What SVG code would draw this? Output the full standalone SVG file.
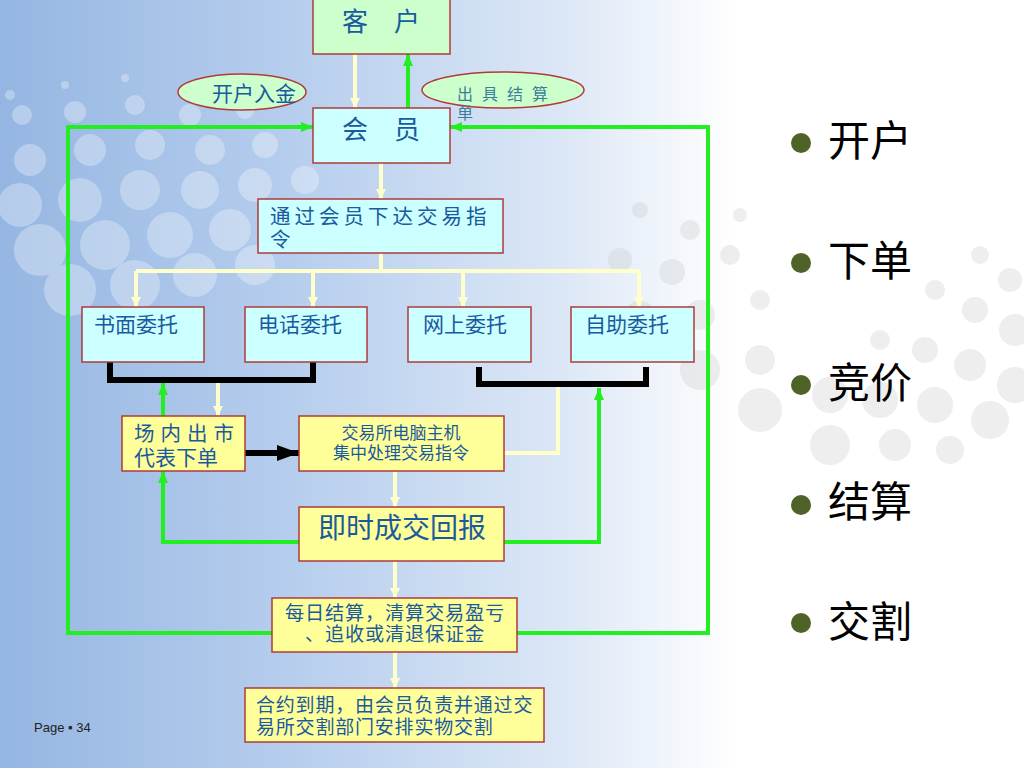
<svg xmlns="http://www.w3.org/2000/svg" width="1024" height="768" viewBox="0 0 1024 768">
<defs>
<linearGradient id="bg" x1="0" y1="0" x2="1" y2="0">
<stop offset="0" stop-color="#95B6E2"/>
<stop offset="0.3" stop-color="#B8CFEE"/>
<stop offset="0.55" stop-color="#DCE7F6"/>
<stop offset="0.72" stop-color="#FFFFFF"/>
<stop offset="1" stop-color="#FFFFFF"/>
</linearGradient>
<marker id="ag" markerWidth="12" markerHeight="10" refX="12" refY="5" orient="auto" markerUnits="userSpaceOnUse"><path d="M0,0 L12,5 L0,10 z" fill="#22EE22"/></marker>
<marker id="ay" markerWidth="10" markerHeight="10" refX="10" refY="5" orient="auto" markerUnits="userSpaceOnUse"><path d="M0,0 L10,5 L0,10 z" fill="#FFFFCC"/></marker>
<marker id="ak" markerWidth="22" markerHeight="16" refX="22" refY="8" orient="auto" markerUnits="userSpaceOnUse"><path d="M0,0 L22,8 L0,16 z" fill="#000000"/></marker>
</defs>
<style>
.box{stroke:#B03A3A;stroke-width:1.5}
.cy{fill:#CCFFFF}
.ye{fill:#FFFF99}
.gr{fill:#CCFFCC}
.t{font-family:"Liberation Sans","Noto Sans CJK SC",sans-serif;fill:#1A5A9E}
.g{fill:none;stroke:#22EE22;stroke-width:4}
.y{fill:none;stroke:#FFFFCC;stroke-width:4}
.k{fill:none;stroke:#000000;stroke-width:6}
.bt{font-family:"Noto Sans CJK SC",sans-serif;font-size:42px;fill:#000000}
.bd{fill:#4F6228}
</style>
<rect x="0" y="0" width="1024" height="768" fill="url(#bg)"/>
<g id="decor-left" fill="#FFFFFF" opacity="0.3">
<circle cx="10" cy="95" r="5"/><circle cx="65" cy="85" r="4"/><circle cx="125" cy="78" r="4"/>
<circle cx="22" cy="115" r="10"/><circle cx="75" cy="112" r="11"/><circle cx="135" cy="105" r="10"/><circle cx="190" cy="115" r="11"/><circle cx="245" cy="110" r="9"/>
<circle cx="30" cy="160" r="16"/><circle cx="90" cy="150" r="16"/><circle cx="150" cy="145" r="15"/><circle cx="210" cy="150" r="15"/><circle cx="265" cy="145" r="13"/>
<circle cx="20" cy="205" r="22"/><circle cx="80" cy="200" r="22"/><circle cx="140" cy="190" r="20"/><circle cx="200" cy="190" r="19"/><circle cx="255" cy="185" r="17"/><circle cx="305" cy="180" r="14"/>
<circle cx="40" cy="250" r="26"/><circle cx="105" cy="245" r="25"/><circle cx="170" cy="235" r="23"/><circle cx="230" cy="230" r="21"/><circle cx="285" cy="225" r="18"/>
<circle cx="70" cy="290" r="26"/><circle cx="135" cy="285" r="25"/><circle cx="195" cy="275" r="22"/><circle cx="255" cy="265" r="20"/>
</g>
<g id="decor-right" fill="#C8C8C8" opacity="0.3">
<circle cx="640" cy="210" r="8"/><circle cx="690" cy="230" r="10"/><circle cx="740" cy="215" r="7"/>
<circle cx="620" cy="260" r="12"/><circle cx="672" cy="272" r="13"/><circle cx="730" cy="255" r="10"/><circle cx="980" cy="255" r="9"/><circle cx="1010" cy="280" r="12"/>
<circle cx="640" cy="318" r="17"/><circle cx="700" cy="315" r="15"/><circle cx="760" cy="300" r="10"/><circle cx="935" cy="290" r="10"/><circle cx="975" cy="310" r="13"/><circle cx="1015" cy="330" r="16"/>
<circle cx="700" cy="370" r="20"/><circle cx="760" cy="360" r="15"/><circle cx="880" cy="340" r="10"/><circle cx="925" cy="350" r="13"/><circle cx="970" cy="365" r="16"/><circle cx="1015" cy="385" r="18"/>
<circle cx="760" cy="410" r="22"/><circle cx="830" cy="395" r="18"/><circle cx="880" cy="400" r="18"/><circle cx="935" cy="405" r="18"/><circle cx="990" cy="420" r="19"/>
<circle cx="830" cy="445" r="20"/><circle cx="895" cy="445" r="16"/><circle cx="950" cy="450" r="14"/>
</g>
<g id="connectors">
<path class="y" d="M355,54 V108" marker-end="url(#ay)"/>
<path class="g" d="M408,108 V54" marker-end="url(#ag)"/>
<path class="g" d="M272,633 H68 V127 H313" marker-end="url(#ag)"/>
<path class="g" d="M517,633 H708 V127 H450" marker-end="url(#ag)"/>
<path class="y" d="M381,163 V199" marker-end="url(#ay)"/>
<path class="y" d="M381,253 V271"/>
<path class="y" d="M136,271 H639"/>
<path class="y" d="M136,271 V307" marker-end="url(#ay)"/>
<path class="y" d="M313,271 V307" marker-end="url(#ay)"/>
<path class="y" d="M463,271 V307" marker-end="url(#ay)"/>
<path class="y" d="M639,271 V307" marker-end="url(#ay)"/>
<path class="k" d="M110,362 V380 H313 V362"/>
<path class="k" d="M479,367 V384 H646 V367"/>
<path class="g" d="M163,416 V383" marker-end="url(#ag)"/>
<path class="y" d="M218,383 V416" marker-end="url(#ay)"/>
<path class="k" d="M245,453 H299" marker-end="url(#ak)"/>
<path class="y" d="M504,453 H558 V387"/>
<path class="y" d="M395,471 V507" marker-end="url(#ay)"/>
<path class="g" d="M299,542 H163 V471" marker-end="url(#ag)"/>
<path class="g" d="M504,542 H599 V388" marker-end="url(#ag)"/>
<path class="y" d="M395,561 V598" marker-end="url(#ay)"/>
<path class="y" d="M395,652 V688" marker-end="url(#ay)"/>
</g>
<g id="n-kehu"><rect class="box gr" x="313" y="-1" width="137" height="55"/><text class="t" x="381" y="31" font-size="26" text-anchor="middle">客　户</text></g>
<g id="n-kaihu"><ellipse class="box gr" cx="242" cy="92" rx="64" ry="18"/><text class="t" x="212" y="101" font-size="21">开户入金</text></g>
<g id="n-chuju"><ellipse class="box gr" cx="503" cy="90" rx="81" ry="18"/><text class="t" font-size="16" style="fill:#3E7D9A"><tspan x="457" y="100" letter-spacing="9">出具结算</tspan><tspan x="457" y="119">单</tspan></text></g>
<g id="n-huiyuan"><rect class="box cy" x="313" y="108" width="137" height="55"/><text class="t" x="381" y="139" font-size="26" text-anchor="middle">会　员</text></g>
<g id="n-tongguo"><rect class="box cy" x="258" y="199" width="245" height="54"/><text class="t" font-size="20.5"><tspan x="270" y="224" letter-spacing="4">通过会员下达交易指</tspan><tspan x="270" y="247">令</tspan></text></g>
<g id="n-shumian"><rect class="box cy" x="82" y="307" width="122" height="55"/><text class="t" x="94" y="332" font-size="21">书面委托</text></g>
<g id="n-dianhua"><rect class="box cy" x="245" y="307" width="122" height="55"/><text class="t" x="258" y="332" font-size="21">电话委托</text></g>
<g id="n-wangshang"><rect class="box cy" x="408" y="307" width="123" height="55"/><text class="t" x="423" y="332" font-size="21">网上委托</text></g>
<g id="n-zizhu"><rect class="box cy" x="571" y="307" width="123" height="55"/><text class="t" x="585" y="332" font-size="21">自助委托</text></g>
<g id="n-changnei"><rect class="box ye" x="122" y="416" width="123" height="55"/><text class="t"><tspan x="134" y="441" font-size="20.5" letter-spacing="6">场内出市</tspan><tspan x="134" y="465" font-size="21">代表下单</tspan></text></g>
<g id="n-jiaoyisuo"><rect class="box ye" x="299" y="416" width="205" height="55"/><text class="t" font-size="17" text-anchor="middle"><tspan x="401" y="439">交易所电脑主机</tspan><tspan x="401" y="459">集中处理交易指令</tspan></text></g>
<g id="n-jishi"><rect class="box ye" x="299" y="507" width="205" height="54"/><text class="t" x="402" y="538" font-size="28" text-anchor="middle">即时成交回报</text></g>
<g id="n-meiri"><rect class="box ye" x="272" y="598" width="245" height="54"/><text class="t" font-size="19.2" letter-spacing="0.8" text-anchor="middle"><tspan x="395" y="619.5">每日结算，清算交易盈亏</tspan><tspan x="395" y="641">、追收或清退保证金</tspan></text></g>
<g id="n-heyue"><rect class="box ye" x="245" y="688" width="299" height="54"/><text class="t" font-size="19" letter-spacing="0.8"><tspan x="256" y="712">合约到期，由会员负责并通过交</tspan><tspan x="256" y="733.5">易所交割部门安排实物交割</tspan></text></g>
<g id="bullets">
<circle class="bd" cx="801" cy="143" r="10"/><text class="bt" x="828" y="156">开户</text>
<circle class="bd" cx="801" cy="263" r="10"/><text class="bt" x="828" y="276">下单</text>
<circle class="bd" cx="801" cy="385" r="10"/><text class="bt" x="828" y="398">竞价</text>
<circle class="bd" cx="801" cy="505" r="10"/><text class="bt" x="828" y="517">结算</text>
<circle class="bd" cx="801" cy="623" r="10"/><text class="bt" x="828" y="637">交割</text>
</g>
<text x="34" y="732" font-family="Liberation Sans, Arial, sans-serif" font-size="13" fill="#222222">Page ▪ 34</text>
</svg>
